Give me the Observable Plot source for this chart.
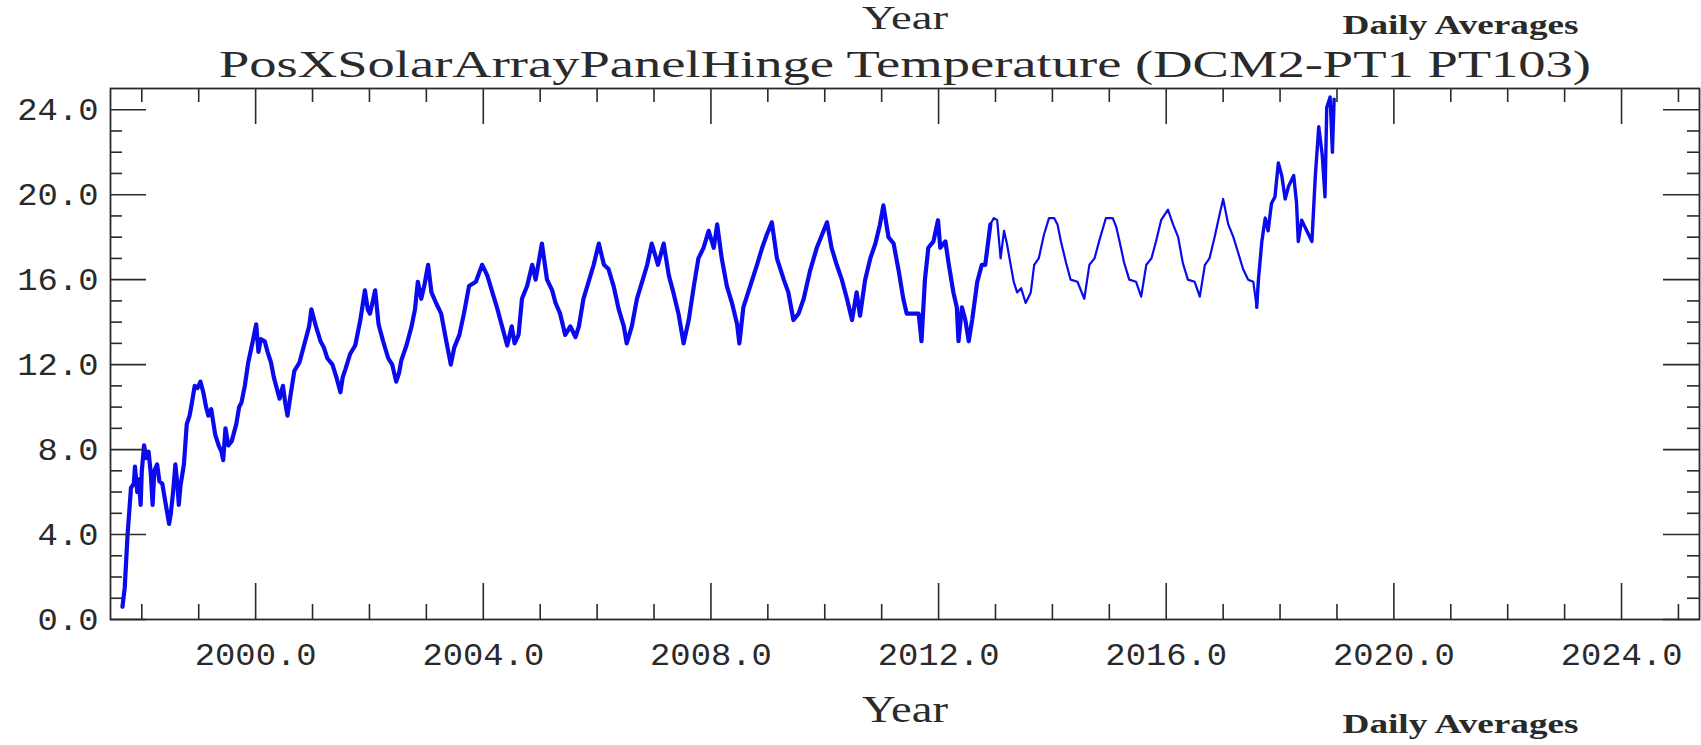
<!DOCTYPE html>
<html><head><meta charset="utf-8">
<script src="https://cdn.jsdelivr.net/npm/d3@7"></script>
<script src="https://cdn.jsdelivr.net/npm/@observablehq/plot@0.6"></script>
<style>html,body{margin:0;padding:0;background:#fff;overflow:hidden}</style>
</head><body><div id="chart"></div>
<script>
// ---- data ----
const years = [
1997.66,1997.70,1997.75,1997.81,1997.86,1997.88,1997.92,1997.95,1997.98,1998.00,
1998.04,1998.08,1998.12,1998.16,1998.19,1998.22,1998.27,1998.31,1998.36,1998.41,
1998.48,1998.51,1998.55,1998.59,1998.63,1998.65,1998.68,1998.74,1998.79,1998.84,
1998.88,1998.93,1998.98,1999.03,1999.08,1999.13,1999.17,1999.22,1999.29,1999.35,
1999.40,1999.43,1999.47,1999.52,1999.58,1999.62,1999.66,1999.71,1999.75,1999.81,
1999.87,1999.95,2000.01,2000.05,2000.09,2000.16,2000.21,2000.27,2000.32,2000.36,
2000.42,2000.48,2000.52,2000.56,2000.61,2000.68,2000.77,2000.85,2000.94,2000.98,
2001.06,2001.14,2001.20,2001.26,2001.35,2001.42,2001.49,2001.53,2001.58,2001.66,
2001.75,2001.84,2001.92,2001.97,2002.01,2002.06,2002.10,2002.16,2002.24,2002.33,
2002.40,2002.47,2002.52,2002.56,2002.65,2002.74,2002.80,2002.85,2002.91,2002.97,
2003.03,2003.09,2003.17,2003.26,2003.35,2003.43,2003.49,2003.58,2003.66,2003.75,
2003.87,2003.98,2004.07,2004.16,2004.24,2004.33,2004.42,2004.50,2004.55,2004.62,
2004.68,2004.77,2004.86,2004.92,2005.03,2005.12,2005.21,2005.27,2005.35,2005.44,
2005.53,2005.62,2005.68,2005.76,2005.85,2005.94,2006.03,2006.12,2006.20,2006.29,
2006.38,2006.47,2006.52,2006.61,2006.70,2006.79,2006.88,2006.96,2007.07,2007.17,
2007.26,2007.34,2007.43,2007.52,2007.61,2007.70,2007.78,2007.87,2007.96,2008.05,
2008.11,2008.19,2008.28,2008.37,2008.46,2008.50,2008.57,2008.69,2008.81,2008.90,
2008.98,2009.07,2009.16,2009.28,2009.36,2009.45,2009.54,2009.63,2009.74,2009.86,
2009.95,2010.04,2010.12,2010.21,2010.30,2010.39,2010.48,2010.56,2010.62,2010.71,
2010.80,2010.89,2010.97,2011.03,2011.12,2011.21,2011.30,2011.38,2011.44,2011.56,
2011.65,2011.70,2011.76,2011.82,2011.91,2011.99,2012.03,2012.12,2012.18,2012.26,
2012.32,2012.35,2012.41,2012.47,2012.53,2012.59,2012.68,2012.76,2012.82,2012.91,
2012.97,2013.03,2013.09,2013.15,2013.20,2013.26,2013.32,2013.38,2013.45,2013.53,
2013.62,2013.68,2013.76,2013.85,2013.94,2014.03,2014.09,2014.15,2014.24,2014.32,
2014.44,2014.56,2014.65,2014.74,2014.82,2014.94,2015.06,2015.12,2015.18,2015.26,
2015.35,2015.47,2015.56,2015.65,2015.74,2015.82,2015.91,2016.03,2016.12,2016.21,
2016.29,2016.38,2016.50,2016.59,2016.68,2016.76,2016.85,2016.94,2017.00,2017.09,
2017.18,2017.26,2017.35,2017.44,2017.53,2017.59,2017.62,2017.68,2017.74,2017.79,
2017.85,2017.91,2017.97,2018.03,2018.09,2018.15,2018.24,2018.29,2018.32,2018.38,
2018.47,2018.56,2018.62,2018.68,2018.74,2018.79,2018.82,2018.88,2018.92,2018.95
];
const temps = [
0.6,1.5,4.0,6.2,6.4,7.2,6.0,6.6,5.4,7.0,
8.2,7.6,7.9,6.8,5.4,7.0,7.3,6.5,6.4,5.6,
4.5,5.0,6.0,7.3,6.2,5.4,6.3,7.3,9.2,9.6,
10.2,11.0,10.9,11.2,10.7,10.0,9.6,9.9,8.7,8.2,
7.9,7.5,9.0,8.2,8.4,8.8,9.2,10.0,10.2,11.0,
12.1,13.1,13.9,12.6,13.2,13.1,12.6,12.1,11.4,11.0,
10.4,11.0,10.2,9.6,10.5,11.7,12.1,12.9,13.8,14.6,
13.8,13.1,12.8,12.3,12.0,11.4,10.7,11.4,11.8,12.5,
12.9,14.1,15.5,14.6,14.4,15.0,15.5,13.9,13.1,12.3,
12.0,11.2,11.6,12.2,12.9,13.8,14.6,15.9,15.1,15.8,
16.7,15.4,14.9,14.4,13.1,12.0,12.8,13.4,14.4,15.7,
15.9,16.7,16.2,15.4,14.7,13.8,12.9,13.8,13.0,13.4,
15.1,15.7,16.7,16.0,17.7,16.0,15.5,14.9,14.4,13.4,
13.8,13.3,13.8,15.1,15.9,16.7,17.7,16.7,16.5,15.7,
14.6,13.8,13.0,13.8,15.1,15.9,16.7,17.7,16.7,17.7,
16.2,15.4,14.4,13.0,14.1,15.7,17.0,17.5,18.3,17.5,
18.6,17.0,15.7,14.9,13.9,13.0,14.7,15.7,16.7,17.5,
18.1,18.7,17.0,16.0,15.4,14.1,14.4,15.1,16.4,17.5,
18.1,18.7,17.5,16.7,16.0,15.1,14.1,15.4,14.3,16.0,
17.0,17.7,18.6,19.5,18.0,17.7,16.4,15.1,14.4,14.4,
14.4,13.1,16.0,17.5,17.8,18.8,17.5,17.8,16.7,15.4,
14.7,13.1,14.7,14.1,13.1,14.1,15.9,16.7,16.7,18.6,
18.9,18.8,17.0,18.3,17.7,16.8,15.9,15.4,15.6,14.9,
15.4,16.7,17.0,18.1,18.9,18.9,18.6,17.8,16.8,16.0,
15.9,15.1,16.7,17.0,17.8,18.9,18.9,18.5,17.8,16.8,
16.0,15.9,15.2,16.7,17.0,17.8,18.8,19.3,18.6,18.0,
16.8,16.0,15.9,15.2,16.7,17.0,18.0,19.1,19.8,18.6,
18.0,17.3,16.5,16.0,15.9,14.7,16.0,17.8,18.9,18.3,
19.6,19.9,21.5,20.9,19.8,20.4,20.9,19.6,17.8,18.8,
18.3,17.8,20.9,23.2,21.9,19.9,24.1,24.6,22.0,24.5
];
const xMajorTicks = [2000, 2004, 2008, 2012, 2016, 2020, 2024];
const xMinorTicks = [1998, 1999, 2001, 2002, 2003, 2005, 2006, 2007, 2009, 2010, 2011, 2013, 2014, 2015, 2017, 2018, 2019, 2021, 2022, 2023, 2025];
const yMajorTicks = [0, 4, 8, 12, 16, 20, 24];
const yMinorTicks = [1, 2, 3, 5, 6, 7, 9, 10, 11, 13, 14, 15, 17, 18, 19, 21, 22, 23];
const titleText = "PosXSolarArrayPanelHinge Temperature (DCM2-PT1 PT103)";
const axisTitle = "Year";
const noteText = "Daily Averages";

const data = years.map((y, i) => ({year: y, temp: temps[i]}));

// ---- layout / style ----
const W = 1701, H = 745;
const mL = 110, mR = 2, mT = 88, mB = 126;
const FW = W - mL - mR, FH = H - mT - mB;
const ink = "#2a2a2a";
const blue = "#0a0aee";
const serif = "Liberation Serif, DejaVu Serif, serif";
const mono = "Liberation Mono, DejaVu Sans Mono, monospace";
// the trace looks heavier (noisier daily values) in some stretches: style only
const denseEnd = 2012.85, thinEnd = 2017.62;
const dense = data.filter(d => d.year <= denseEnd + 0.07);
const thin = data.filter(d => d.year >= denseEnd - 0.01 && d.year <= thinEnd);
const last = data.filter(d => d.year >= thinEnd - 0.04);

const plot = Plot.plot({
  width: W, height: H,
  marginLeft: mL, marginRight: mR, marginTop: mT, marginBottom: mB,
  style: {background: "white", color: ink},
  x: {domain: [1997.45, 2025.37], axis: null},
  y: {domain: [0, 25], axis: null},
  marks: [
    Plot.line(dense, {x: "year", y: "temp", stroke: blue, strokeWidth: 4.2, strokeLinejoin: "round"}),
    Plot.line(thin, {x: "year", y: "temp", stroke: blue, strokeWidth: 2.2, strokeLinejoin: "round"}),
    Plot.line(last, {x: "year", y: "temp", stroke: blue, strokeWidth: 3.4, strokeLinejoin: "round"}),
    // ticks, all four sides, pointing inward
    Plot.tickX(xMajorTicks, {x: d => d, insetTop: FH - 36, stroke: ink, strokeWidth: 1.6}),
    Plot.tickX(xMinorTicks, {x: d => d, insetTop: FH - 15, stroke: ink, strokeWidth: 1.6}),
    Plot.tickX(xMajorTicks, {x: d => d, insetBottom: FH - 36, stroke: ink, strokeWidth: 1.6}),
    Plot.tickX(xMinorTicks, {x: d => d, insetBottom: FH - 14, stroke: ink, strokeWidth: 1.6}),
    Plot.tickY(yMajorTicks, {y: d => d, insetRight: FW - 36, stroke: ink, strokeWidth: 1.6}),
    Plot.tickY(yMinorTicks, {y: d => d, insetRight: FW - 12, stroke: ink, strokeWidth: 1.6}),
    Plot.tickY(yMajorTicks, {y: d => d, insetLeft: FW - 36, stroke: ink, strokeWidth: 1.6}),
    Plot.tickY(yMinorTicks, {y: d => d, insetLeft: FW - 12, stroke: ink, strokeWidth: 1.6}),
    Plot.frame({stroke: ink, strokeWidth: 1.8}),
    // tick labels
    Plot.text(xMajorTicks, {x: d => d, frameAnchor: "bottom", dy: 45, text: d => d.toFixed(1),
      fontFamily: mono, fontSize: 32, fill: ink}),
    Plot.text(yMajorTicks, {y: d => d, frameAnchor: "left", dx: -12, textAnchor: "end", text: d => d.toFixed(1),
      fontFamily: mono, fontSize: 32, fill: ink}),
    // titles
    Plot.text([titleText], {frameAnchor: "top", lineAnchor: "bottom", dy: -12, text: d => d,
      fontFamily: serif, fontSize: 37, fill: ink}),
    Plot.text([axisTitle], {frameAnchor: "top", lineAnchor: "bottom", dy: -60, text: d => d,
      fontFamily: serif, fontSize: 34, fill: ink}),
    Plot.text([axisTitle], {frameAnchor: "bottom", lineAnchor: "bottom", dy: 102, text: d => d,
      fontFamily: serif, fontSize: 37, fill: ink}),
    Plot.text([noteText], {frameAnchor: "top-right", textAnchor: "end", lineAnchor: "bottom", dx: -121, dy: -55, text: d => d,
      fontFamily: serif, fontSize: 28, fontWeight: "bold", fill: ink}),
    Plot.text([noteText], {frameAnchor: "bottom-right", textAnchor: "end", lineAnchor: "bottom", dx: -121, dy: 113, text: d => d,
      fontFamily: serif, fontSize: 28, fontWeight: "bold", fill: ink})
  ]
});

// stretch texts to the widths measured on the reference
const widths = new Map([[titleText, 1372], [axisTitle, 86], [noteText, 236]]);
d3.select(plot).selectAll("text").each(function() {
  const t = d3.select(this);
  const str = t.text();
  let w = widths.get(str);
  if (w === undefined && /^\d+\.0$/.test(str)) w = str.length * 20.3;
  if (w !== undefined) t.attr("textLength", w).attr("lengthAdjust", "spacingAndGlyphs");
});

document.getElementById("chart").appendChild(plot);
</script>
</body></html>
